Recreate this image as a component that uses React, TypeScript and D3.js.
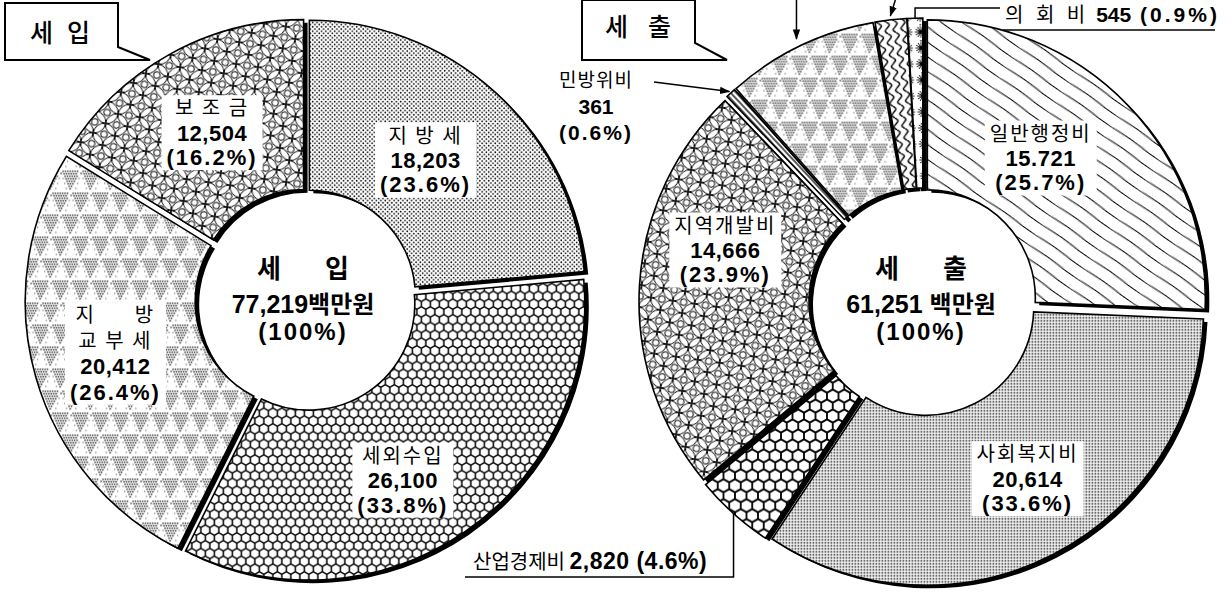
import React, { useEffect, useRef } from "react";
import * as d3 from "d3";

const WIDTH = 1232;
const HEIGHT = 597;

// ---------------- data : 세입 (revenue) ----------------
const revenueCategories = ["지방세", "세외수입", "지방교부세", "보조금"];
const revenueNameLines = [["지 방 세"], ["세외수입"], ["지      방", "교 부 세"], ["보 조 금"]];
const revenueValues = [18203, 26100, 20412, 12504];
const revenueValueLabels = ["18,203", "26,100", "20,412", "12,504"];
const revenuePercents = ["23.6", "33.8", "26.4", "16.2"];
const revenueTotalLabel = "77,219";

// ---------------- data : 세출 (expenditure) ----------------
const expenditureCategories = ["일반행정비", "사회복지비", "산업경제비", "지역개발비", "민방위비", "", "", "의회비"];
const expenditureValues = [15721, 20614, 2820, 14666, 361, 5400, 1124, 545];
const expenditureValueLabels = ["15.721", "20,614", "2,820", "14,666", "361", "", "", "545"];
const expenditurePercents = ["25.7", "33.6", "4.6", "23.9", "0.6", "", "", "0.9"];
const expenditureTotalLabel = "61,251";

// ---------------- styling / layout ----------------
const KR = "'Noto Sans CJK KR', 'Noto Sans', sans-serif";
const NUM = "'Liberation Sans', Arial, sans-serif";

const leftCfg = {
  cx: 306, cy: 300, r: 106, R: 276, explode: 5, shadow: [4, 3],
  patterns: ["dotsLight", "honeySmall", "triDots", "shippo"],
  labelR: 195,
  nudges: [[-12, 4], [-13, 19], [-3, 0], [1, 3]],
  lineHeights: [24.5, 24.5, 25.5, 24.5],
  textDx: -3,
};
const rightCfg = {
  cx: 923, cy: 302, r: 108, R: 278, explode: 6, shadow: [4, 3],
  patterns: ["woodLines", "dotsDense", "honeyLarge", "shippo", "stripes", "triDots", "wavy", "flower"],
  labelR: 195,
  nudges: [[-23, -9], [16, 3], [0, 0], [-3, -41]],
  textDx: -2,
};

type Line = { text: string; font: string; size: number; weight: number; ls?: number };
const nameLine = (t: string): Line => ({ text: t, font: KR, size: 20, weight: 400, ls: 2 });
const numLine = (t: string): Line => ({ text: t, font: NUM, size: 22, weight: 700, ls: 0.5 });
const pctLine = (p: string): Line => ({ text: `(${p}%)`, font: NUM, size: 22, weight: 700, ls: 2 });

function buildPatterns(defs: any) {
  const mk = (id: string, w: number, h: number, transform?: string) => {
    const p = defs.append("pattern").attr("id", id).attr("patternUnits", "userSpaceOnUse")
      .attr("width", w).attr("height", h);
    if (transform) p.attr("patternTransform", transform);
    p.append("rect").attr("width", w).attr("height", h).attr("fill", "#fff");
    return p;
  };
  // light stipple
  const p1 = mk("dotsLight", 4.4, 4.4);
  [[1.1, 1.1], [3.3, 3.3]].forEach(([x, y]) => p1.append("circle").attr("cx", x).attr("cy", y).attr("r", 0.85).attr("fill", "#000"));
  // dense stipple
  const p2 = mk("dotsDense", 3, 3);
  p2.append("rect").attr("x", 0.8).attr("y", 0.8).attr("width", 1.5).attr("height", 1.5).attr("fill", "#000");
  // honeycomb
  const honey = (id: string, d: number, lw: number) => {
    const h = d * Math.sqrt(3);
    const p = defs.append("pattern").attr("id", id).attr("patternUnits", "userSpaceOnUse").attr("width", d).attr("height", h);
    p.append("rect").attr("width", d).attr("height", h).attr("fill", "#000");
    const a = d / 2 - lw / 2;
    const rc = a / Math.cos(Math.PI / 6);
    const centers = [[0, 0], [d, 0], [d / 2, h / 2], [0, h], [d, h]];
    centers.forEach(([x, y]) => {
      const pts = d3.range(6).map((k) => {
        const ang = Math.PI / 6 + (k * Math.PI) / 3;
        return [x + rc * Math.cos(ang), y + rc * Math.sin(ang)];
      });
      p.append("path").attr("d", "M" + pts.map((q) => q.join(",")).join("L") + "Z").attr("fill", "#fff");
    });
  };
  honey("honeySmall", 9, 1.5);
  honey("honeyLarge", 11.5, 1.8);
  // dotted inverted triangles
  const tw = 20, th = 44;
  const p3 = mk("triDots", tw, th);
  const tri = (cx: number, top: number) => {
    for (let j = 0; j < 8; j++) {
      const y = top + j * 2.5;
      const half = 8 * (1 - j / 8);
      for (let x = cx - half; x <= cx + half + 0.01; x += 2.4) {
        p3.append("circle").attr("cx", x).attr("cy", y).attr("r", 0.8).attr("fill", "#000");
      }
    }
  };
  tri(10, 2); tri(0, 24); tri(20, 24);
  [[0, 2], [20, 2], [10, 24]].forEach(([cx, top]) => {
    for (let j = 1; j < 8; j += 2) {
      const y = top + (7 - j) * 2.5 + 2;
      p3.append("circle").attr("cx", cx - 6 + j * 0.8).attr("cy", y).attr("r", 0.55).attr("fill", "#000");
      p3.append("circle").attr("cx", cx + 6 - j * 0.8).attr("cy", y).attr("r", 0.55).attr("fill", "#000");
    }
  });
  // interlocking circles (칠보)
  const s = 22;
  const p4 = mk("shippo", s, s, "rotate(8)");
  [[0, 0], [s, 0], [0, s], [s, s], [s / 2, s / 2]].forEach(([x, y]) => {
    p4.append("circle").attr("cx", x).attr("cy", y).attr("r", s / 2).attr("fill", "none").attr("stroke", "#000").attr("stroke-width", 1);
  });
  [[0, 0], [s, 0], [0, s], [s, s], [s / 2, s / 2]].forEach(([x, y]) => {
    p4.append("circle").attr("cx", x).attr("cy", y).attr("r", 3.3).attr("fill", "#fff").attr("stroke", "#000").attr("stroke-width", 1);
  });
  // wood-grain diagonal lines
  const p5 = mk("woodLines", 60, 12, "rotate(35)");
  p5.append("path").attr("d", "M0,6 Q15,5 30,6 T60,6").attr("fill", "none").attr("stroke", "#000").attr("stroke-width", 1.1);
  // radial stripes
  const p6 = mk("stripes", 4, 4, "rotate(47)");
  p6.append("line").attr("x1", 0).attr("x2", 4).attr("y1", 2).attr("y2", 2).attr("stroke", "#000").attr("stroke-width", 1.3);
  // wavy vertical lines
  const p7 = mk("wavy", 8, 12, "rotate(-10)");
  p7.append("path").attr("d", "M4,0 C7.5,3 7.5,3 4,6 C0.5,9 0.5,9 4,12").attr("fill", "none").attr("stroke", "#000").attr("stroke-width", 1.5);
  // flowers
  const p8 = mk("flower", 14, 16, "rotate(-2)");
  d3.range(12).forEach((k) => {
    const a = (k * Math.PI) / 6;
    p8.append("line").attr("x1", 7).attr("y1", 8).attr("x2", 7 + 5.8 * Math.cos(a)).attr("y2", 8 + 5.8 * Math.sin(a))
      .attr("stroke", "#000").attr("stroke-width", 0.9);
  });
  p8.append("circle").attr("cx", 7).attr("cy", 8).attr("r", 2).attr("fill", "#000");
  p8.append("line").attr("x1", 7).attr("x2", 7).attr("y1", 0).attr("y2", 1.6).attr("stroke", "#000").attr("stroke-width", 1.2);
  // arrow marker
  defs.append("marker").attr("id", "arrow").attr("viewBox", "0 0 10 10").attr("refX", 9).attr("refY", 5)
    .attr("markerWidth", 7).attr("markerHeight", 7).attr("orient", "auto-start-reverse")
    .append("path").attr("d", "M0,1.5 L10,5 L0,8.5 Z").attr("fill", "#000");
}

function drawDonut(root: any, values: number[], cfg: any) {
  const arcs = d3.pie<number>().sort(null).value((d) => d)(values);
  const arcGen = d3.arc<d3.PieArcDatum<number>>().innerRadius(cfg.r).outerRadius(cfg.R);
  const off = (a: d3.PieArcDatum<number>) => {
    const m = (a.startAngle + a.endAngle) / 2;
    return [cfg.explode * Math.sin(m), -cfg.explode * Math.cos(m)];
  };
  const g = root.append("g");
  g.append("g").selectAll("path").data(arcs).join("path")
    .attr("d", arcGen as any)
    .attr("transform", (a: any) => { const [ox, oy] = off(a); return `translate(${cfg.cx + ox + cfg.shadow[0]},${cfg.cy + oy + cfg.shadow[1]})`; })
    .attr("fill", "#000");
  g.append("g").selectAll("path").data(arcs).join("path")
    .attr("d", arcGen as any)
    .attr("transform", (a: any) => { const [ox, oy] = off(a); return `translate(${cfg.cx + ox},${cfg.cy + oy})`; })
    .attr("fill", (_: any, i: number) => `url(#${cfg.patterns[i]})`)
    .attr("stroke", "#000").attr("stroke-width", 1.6).attr("stroke-linejoin", "miter");
  const pointAt = (i: number, radius: number, frac = 0.5) => {
    const a = arcs[i];
    const ang = a.startAngle + (a.endAngle - a.startAngle) * frac;
    const [ox, oy] = off(a);
    return [cfg.cx + ox + radius * Math.sin(ang), cfg.cy + oy - radius * Math.cos(ang)];
  };
  return { arcs, pointAt };
}

function addLabel(layer: any, cx: number, cy: number, lines: Line[], box = true, lh = 24.5) {
  const g = layer.append("g");
  const rect = g.append("rect").attr("fill", "#fff");
  const n = lines.length;
  const texts: any[] = [];
  lines.forEach((ln, k) => {
    const yc = cy + (k - (n - 1) / 2) * lh;
    const t = g.append("text").attr("text-anchor", "middle").attr("xml:space", "preserve")
      .style("white-space", "pre").attr("fill", "#000")
      .attr("x", cx).attr("y", yc + 0.36 * ln.size)
      .attr("font-family", ln.font).attr("font-size", ln.size).attr("font-weight", ln.weight)
      .attr("letter-spacing", ln.ls || 0).text(ln.text);
    texts.push(t);
  });
  if (box) {
    let x0 = Infinity, x1 = -Infinity;
    texts.forEach((t) => { const bb = (t.node() as SVGTextElement).getBBox(); x0 = Math.min(x0, bb.x); x1 = Math.max(x1, bb.x + bb.width); });
    const top = cy - ((n - 1) / 2) * lh - 13;
    const bottom = cy + ((n - 1) / 2) * lh + 13;
    rect.attr("x", x0 - 5).attr("y", top).attr("width", x1 - x0 + 10).attr("height", bottom - top);
  }
}

function centerText(layer: any, x: number, first: string, second: string, total: string, gap: string) {
  const t1 = layer.append("text").attr("text-anchor", "middle").attr("y", 269 + 9)
    .attr("font-family", KR).attr("font-size", 26).attr("font-weight", 700);
  t1.append("tspan").attr("x", x).text(first);
  t1.append("tspan").attr("dx", 44).text(second);
  const t2 = layer.append("text").attr("text-anchor", "middle").attr("x", x).attr("y", 304 + 9)
    .attr("xml:space", "preserve").style("white-space", "pre");
  t2.append("tspan").attr("font-family", NUM).attr("font-size", 25).attr("font-weight", 700).text(total + gap);
  t2.append("tspan").attr("font-family", KR).attr("font-size", 24).attr("font-weight", 700).text("백만원");
  layer.append("text").attr("text-anchor", "middle").attr("x", x).attr("y", 331 + 9)
    .attr("font-family", NUM).attr("font-size", 24).attr("font-weight", 700).attr("letter-spacing", 2).text("(100%)");
}

function callout(layer: any, d: string, tx: number, ty: number, a: string, b: string, gap: number) {
  layer.append("path").attr("d", d).attr("fill", "#fff").attr("stroke", "#000").attr("stroke-width", 2);
  const t = layer.append("text").attr("y", ty + 9).attr("font-family", KR).attr("font-size", 25).attr("font-weight", 500);
  t.append("tspan").attr("x", tx).text(a);
  t.append("tspan").attr("dx", gap).text(b);
}

export default function App() {
  const ref = useRef<SVGSVGElement>(null);
  useEffect(() => {
    const svg = d3.select(ref.current);
    svg.selectAll("*").remove();
    svg.append("rect").attr("width", WIDTH).attr("height", HEIGHT).attr("fill", "#fff");
    const defs = svg.append("defs");
    buildPatterns(defs);

    // ---- left donut : 세입
    const left = drawDonut(svg, revenueValues, leftCfg);
    const labelsL = svg.append("g");
    left.arcs.forEach((a, i) => {
      const m = (a.startAngle + a.endAngle) / 2;
      const x = leftCfg.cx + leftCfg.labelR * Math.sin(m) + leftCfg.nudges[i][0];
      const y = leftCfg.cy - leftCfg.labelR * Math.cos(m) + leftCfg.nudges[i][1];
      const lines = [...revenueNameLines[i].map(nameLine), numLine(revenueValueLabels[i]), pctLine(revenuePercents[i])];
      addLabel(labelsL, x, y, lines, true, leftCfg.lineHeights[i]);
    });
    centerText(svg, leftCfg.cx + leftCfg.textDx, "세", "입", revenueTotalLabel, "");

    // ---- right donut : 세출
    const right = drawDonut(svg, expenditureValues, rightCfg);
    const labelsR = svg.append("g");
    [0, 1, 3].forEach((i) => {
      const a = right.arcs[i];
      const m = (a.startAngle + a.endAngle) / 2;
      const x = rightCfg.cx + rightCfg.labelR * Math.sin(m) + rightCfg.nudges[i][0];
      const y = rightCfg.cy - rightCfg.labelR * Math.cos(m) + rightCfg.nudges[i][1];
      addLabel(labelsR, x, y, [nameLine(expenditureCategories[i]), numLine(expenditureValueLabels[i]), pctLine(expenditurePercents[i])]);
    });
    centerText(svg, rightCfg.cx + rightCfg.textDx, "세", "출", expenditureTotalLabel, " ");

    const ann = svg.append("g").attr("fill", "none").attr("stroke", "#000").attr("stroke-width", 1.5);

    // 산업경제비 (index 2)
    const [sx, sy] = right.pointAt(2, rightCfg.R);
    ann.append("path").attr("d", `M${sx},${sy} V577 H465`);
    const st = svg.append("text").attr("x", 473).attr("y", 569).attr("xml:space", "preserve").style("white-space", "pre");
    st.append("tspan").attr("font-family", KR).attr("font-size", 20).attr("letter-spacing", 0).text(expenditureCategories[2] + " ");
    st.append("tspan").attr("font-family", NUM).attr("font-size", 23).attr("font-weight", 700).attr("letter-spacing", 0.5)
      .text(`${expenditureValueLabels[2]} (${expenditurePercents[2]}%)`);

    // 민방위비 (index 4)
    const [mx, my] = right.pointAt(4, rightCfg.R + 2);
    ann.append("path").attr("d", `M654,82 L${mx},${my}`).attr("marker-end", "url(#arrow)");
    addLabel(svg, 596, 106, [
      { text: expenditureCategories[4], font: KR, size: 19, weight: 400, ls: 1 },
      { text: expenditureValueLabels[4], font: NUM, size: 21, weight: 700 },
      { text: `(${expenditurePercents[4]}%)`, font: NUM, size: 21, weight: 700, ls: 2 },
    ], false, 26);

    // unlabeled slices (their labels lie above the frame): arrows only
    const [tx, ty] = right.pointAt(5, rightCfg.R + 8);
    ann.append("path").attr("d", `M${tx},0 L${tx},${ty}`).attr("marker-end", "url(#arrow)");
    const [wx, wy] = right.pointAt(6, rightCfg.R + 4);
    ann.append("path").attr("d", `M${wx + 5},0 L${wx},${wy}`).attr("marker-end", "url(#arrow)");

    // 의회비 (index 7)
    const [ux, uy] = right.pointAt(7, rightCfg.R);
    ann.append("path").attr("d", `M${ux},${uy} V8 H1000`);
    ann.append("path").attr("d", "M1003,30 H1215");
    const ut = svg.append("text").attr("x", 1005).attr("y", 22).attr("xml:space", "preserve").style("white-space", "pre");
    ut.append("tspan").attr("font-family", KR).attr("font-size", 20).attr("letter-spacing", 4).text("의 회 비");
    ut.append("tspan").attr("font-family", NUM).attr("font-size", 21).attr("font-weight", 700).attr("dx", 7).text(expenditureValueLabels[7]);
    ut.append("tspan").attr("font-family", NUM).attr("font-size", 21).attr("font-weight", 700).attr("letter-spacing", 3)
      .text(` (${expenditurePercents[7]}%)`);

    // title callouts
    const tl = svg.append("g");
    callout(tl, "M5,3 H118 V47 L150,60 H5 Z", 30, 33, "세", "입", 14);
    callout(tl, "M582,0 H695 V43 L727,60 H582 Z", 605, 27, "세", "출", 20);
  }, []);
  return (
    <svg ref={ref} width={WIDTH} height={HEIGHT}
      style={{ position: "absolute", left: 0, top: 0, display: "block", background: "#fff" }} />
  );
}
